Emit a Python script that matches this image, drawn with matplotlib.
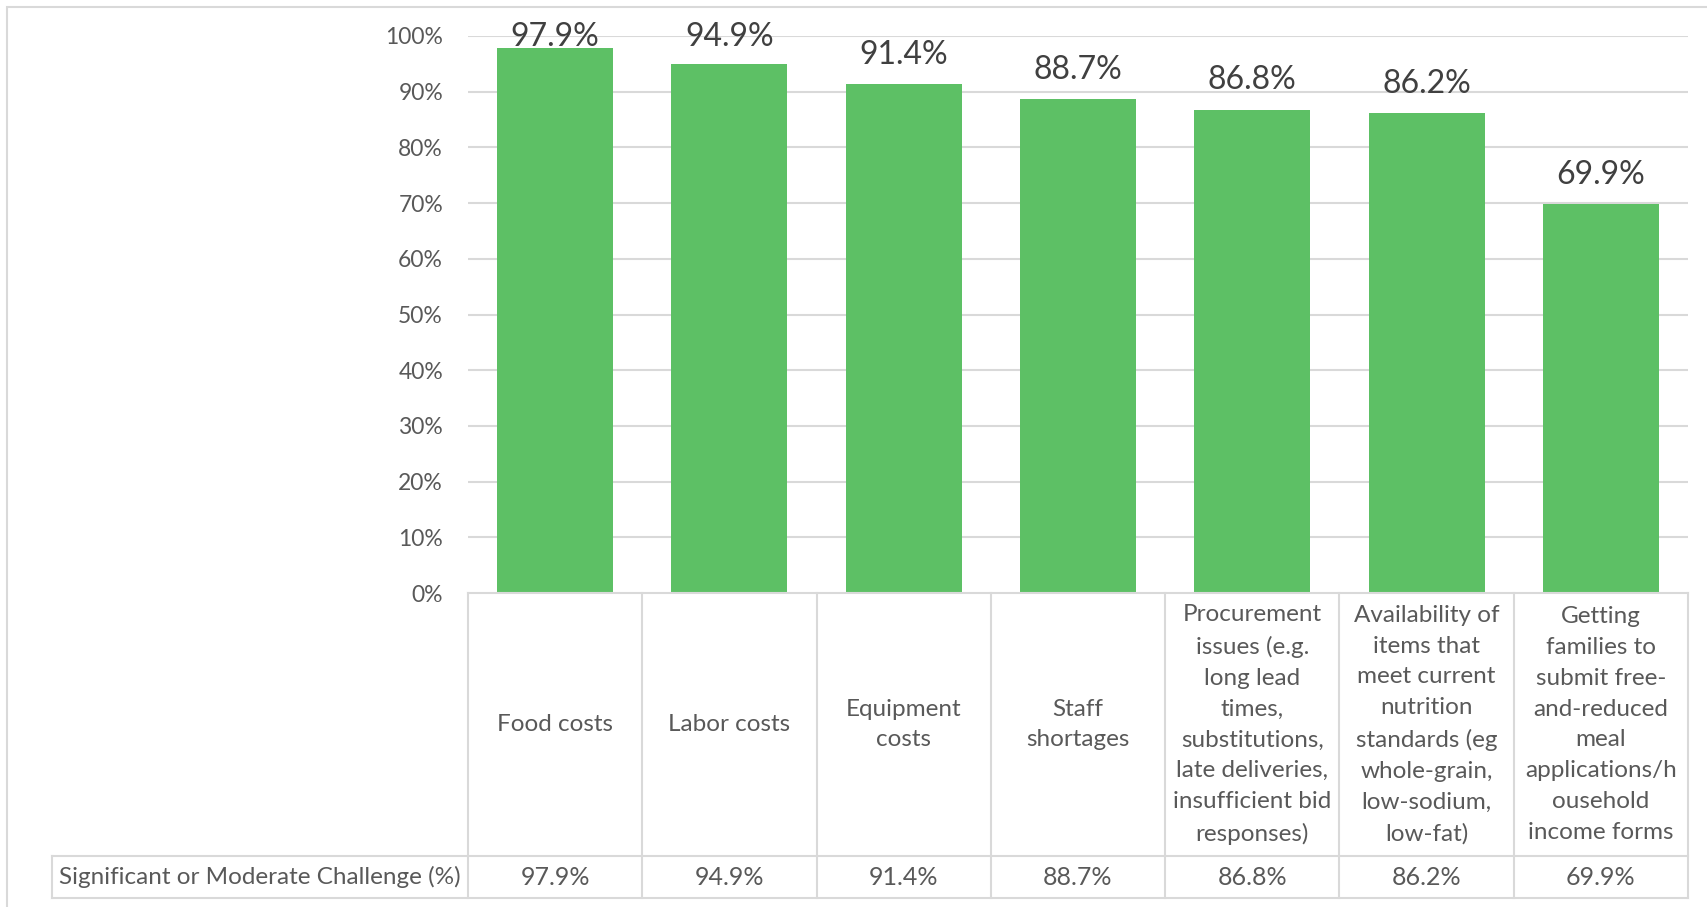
import numpy as np
import matplotlib
matplotlib.use('agg')
import matplotlib.pyplot as plt
from matplotlib.patches import Rectangle

# data
categories = [
    "Food costs",
    "Labor costs",
    "Equipment\ncosts",
    "Staff\nshortages",
    "Procurement\nissues (e.g.\nlong lead\ntimes,\nsubstitutions,\nlate deliveries,\ninsufficient bid\nresponses)",
    "Availability of\nitems that\nmeet current\nnutrition\nstandards (eg\nwhole-grain,\nlow-sodium,\nlow-fat)",
    "Getting\nfamilies to\nsubmit free-\nand-reduced\nmeal\napplications/h\nousehold\nincome forms",
]
values = [97.9, 94.9, 91.4, 88.7, 86.8, 86.2, 69.9]
series_name = "Significant or Moderate Challenge (%)"
yticks = np.arange(0, 101, 10)

plt.rcParams['font.family'] = ['Lato', 'DejaVu Sans']

W, H = 1707, 907
fig = plt.figure(figsize=(W / 100, H / 100), dpi=100)

def fx(px):
    return px / W

def fy(py):
    return 1 - py / H

grid_c = '#d9d9d9'
text_c = '#595959'
bar_c = '#5dc065'

# outer chart border (only left/top visible in the crop)
fig.patches.append(Rectangle((fx(7), fy(H + 20)), 1.2, (H + 20 - 7) / H,
                             transform=fig.transFigure, fill=False,
                             edgecolor=grid_c, lw=1.5))

x0, x1 = 468, 1688
y_top, y_zero, y_sep, y_bot = 36, 593, 856, 898
n = len(values)
xs = np.arange(n)

# bar chart
ax = fig.add_axes([fx(x0), fy(y_zero), (x1 - x0) / W, (y_zero - y_top) / H])
ax.bar(xs, values, width=0.665, color=bar_c, zorder=3)
ax.set_xlim(-0.5, n - 0.5)
ax.set_ylim(0, 100)
ax.set_yticks(yticks)
ax.set_yticklabels([f'{t}%' for t in yticks], fontsize=16.5, color=text_c)
ax.tick_params(axis='y', length=0, pad=18)
ax.set_xticks([])
for s in ax.spines.values():
    s.set_visible(False)
for t in yticks[1:]:
    ax.axhline(t, color=grid_c, lw=1.5, zorder=1)
for i, v in enumerate(values):
    ax.text(i, min(v + 3.6, 98.2), f'{v:.1f}%', ha='center', va='baseline',
            fontsize=23, color='#404040', zorder=4, clip_on=False)

# data table below
tab = fig.add_axes([fx(x0), fy(y_bot), (x1 - x0) / W, (y_bot - y_zero) / H])
tab.set_xlim(-0.5, n - 0.5)
tab.set_ylim(y_bot, y_zero)
tab.axis('off')
unit = (x1 - x0) / n
x_head = -0.5 + (52 - x0) / unit
lk = dict(color=grid_c, lw=1.5, clip_on=False)
tab.plot([-0.5, n - 0.5], [y_zero, y_zero], **lk)
tab.plot([x_head, n - 0.5], [y_sep, y_sep], **lk)
tab.plot([x_head, n - 0.5], [y_bot, y_bot], **lk)
tab.plot([x_head, x_head], [y_sep, y_bot], **lk)
for k in range(n + 1):
    tab.plot([k - 0.5, k - 0.5], [y_zero, y_bot], **lk)
for i, (c, v) in enumerate(zip(categories, values)):
    tab.text(i, (y_zero + y_sep) / 2, c, ha='center', va='center',
             fontsize=17.5, color=text_c, linespacing=1.58)
    tab.text(i, (y_sep + y_bot) / 2, f'{v:.1f}%', ha='center', va='center',
             fontsize=18, color=text_c)
tab.text((x_head - 0.5) / 2, (y_sep + y_bot) / 2, series_name, ha='center',
         va='center', fontsize=17.5, color=text_c, clip_on=False)

fig.savefig('out.png', dpi=100)
